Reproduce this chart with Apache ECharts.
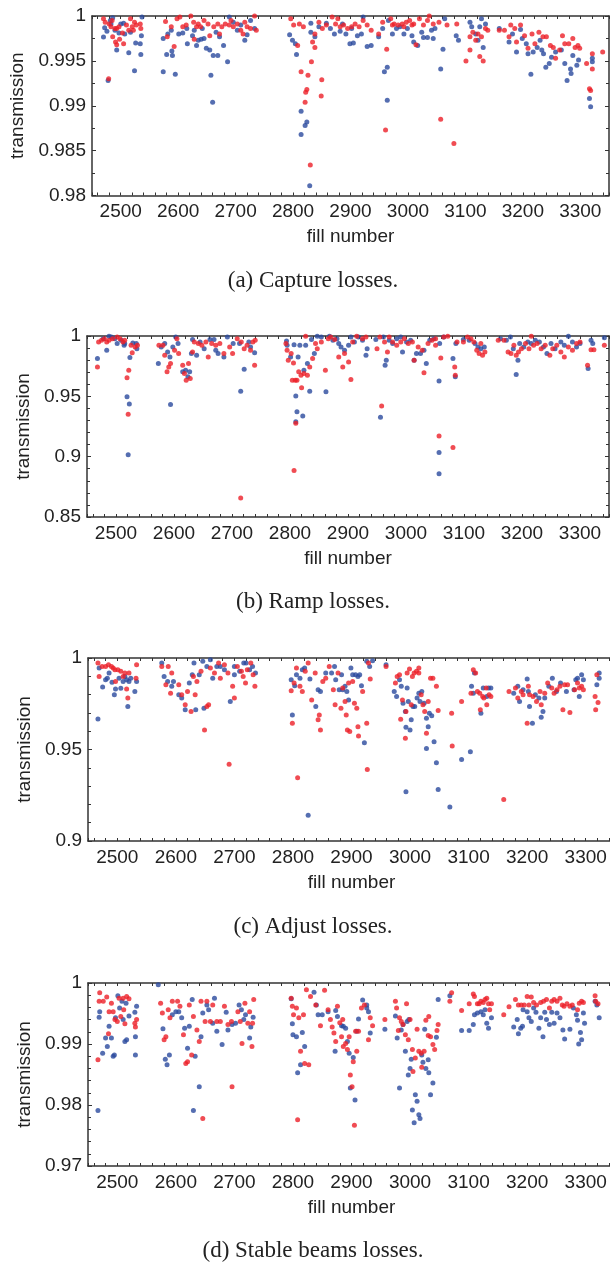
<!DOCTYPE html>
<html>
<head>
<meta charset="utf-8">
<script src="https://cdn.jsdelivr.net/npm/echarts@6/dist/echarts.min.js"></script>
<style>
html,body{margin:0;padding:0;background:#fff;overflow:hidden;}
#chart{width:610px;height:1264px;}
</style>
</head>
<body>
<div id="chart"></div>
<script>
// ---------- data ----------
const captions = ["(a) Capture losses.", "(b) Ramp losses.", "(c) Adjust losses.", "(d) Stable beams losses."];
const xName = "fill number";
const yName = "transmission";
const xRange = [2450, 3350];
const yRanges = [[0.98, 1], [0.85, 1], [0.9, 1], [0.97, 1]];
const yIntervals = [0.005, 0.05, 0.05, 0.01];
const yMinorSplits = [2, 5, 5, 5];

const captureBlue = [
[2470,0.99766],[2472,0.9987],[2486,0.9998],[2482,0.9995],[2490,0.9984],[2493,0.9962],[2497,0.9981],[2507,0.9980],[2514,0.9959],[2526,0.9970],[2534,0.9969],[2535,0.9957],[2524,0.9939],[2478,0.9928],[2536,0.9978],[2537,0.9999],[2483,0.9991],[2500,0.9991],[2517,0.9982],[2476,0.9983],[2505,0.9992],
[2574,0.9938],[2580,0.9957],[2589,0.9961],[2590,0.9956],[2595,0.9935],[2574,0.9975],[2582,0.9980],[2588,0.9984],[2601,0.9980],[2608,0.9981],[2616,0.9969],[2625,0.9978],[2632,0.9967],[2635,0.9973],[2640,0.9974],[2645,0.9975],[2649,0.9964],[2655,0.9962],[2661,0.9956],[2669,0.9956],[2657,0.9934],[2660,0.9904],[2686,0.9949],[2679,0.9967],[2672,0.9977],[2689,0.9999],[2696,0.9993],[2703,0.9984],[2716,0.9973],[2720,0.9979],[2726,0.9995],[2733,0.9986],[2615,0.9986],[2628,0.9984],[2642,0.9986],[2666,0.9982],[2709,0.9990],
[2794,0.9979],[2799,0.9973],[2804,0.9969],[2806,0.9957],[2814,0.9894],[2814,0.9868],[2821,0.9878],[2824,0.9882],[2829,0.9811],[2831,0.9982],[2831,0.9992],[2838,0.9977],[2845,0.9988],[2858,0.9992],[2872,0.9980],[2882,0.9983],[2892,0.9980],[2899,0.9969],[2905,0.9970],[2912,0.9978],[2922,0.9999],[2929,0.9966],[2936,0.9967],[2886,0.9991],[2902,0.9986],[2865,0.9986],[2919,0.9980],
[2949,0.9977],[2956,0.9986],[2959,0.9938],[2964,0.9943],[2964,0.9906],[2973,0.9980],[2980,0.9986],[2986,0.9988],[2993,0.9980],[2999,0.9986],[3007,0.9978],[3010,0.9971],[3017,0.9967],[3024,0.9982],[3027,0.9976],[3034,0.9976],[3041,0.9984],[3044,0.9975],[3047,0.9986],[3057,0.9941],[3061,0.9963],[3064,0.9997],[2966,0.9995],
[3084,0.9978],[3088,0.9973],[3108,0.9993],[3111,0.9988],[3118,0.9980],[3125,0.9988],[3128,0.9997],[3131,0.9965],[3135,0.9991],[3122,0.9973],
[3159,0.9986],[3176,0.9971],[3182,0.9980],[3189,0.9960],[3196,0.9985],[3199,0.9975],[3206,0.9969],[3209,0.9958],[3214,0.9935],[3218,0.9960],[3225,0.9965],[3230,0.9973],[3236,0.9958],[3240,0.9943],[3246,0.9947],[3250,0.9954],[3257,0.9960],[3267,0.9962],[3273,0.9947],[3277,0.9928],[3283,0.9941],[3284,0.9936],[3287,0.9956],[3294,0.9945],[3297,0.9951],[3316,0.9908],[3318,0.9899],[3321,0.9949],[3321,0.9953],[3233,0.9962]
];
const captureRed = [
[2470,0.9997],[2473,0.9993],[2479,0.9930],[2483,0.9988],[2486,0.9977],[2491,0.9971],[2493,0.9968],[2498,0.9974],[2503,0.9981],[2505,0.9969],[2510,0.9990],[2514,0.9984],[2517,0.9997],[2522,0.9984],[2524,0.9993],[2527,0.9990],[2534,0.9991],[2535,0.9986],[2490,0.9986],[2497,0.9988],[2480,0.9991],[2485,0.9995],[2493,0.9986],[2520,0.9988],
[2578,0.9994],[2581,0.9977],[2588,0.9988],[2593,0.9966],[2598,0.9997],[2603,0.9999],[2608,0.9988],[2614,0.9990],[2622,1.0],[2627,0.9993],[2632,0.9988],[2635,0.9991],[2639,0.9988],[2645,0.9995],[2652,0.9991],[2655,0.9978],[2662,0.9988],[2669,0.9991],[2676,0.9988],[2682,0.9991],[2689,0.9990],[2696,0.9988],[2703,0.9991],[2709,0.9984],[2713,0.9980],[2720,0.9988],[2726,0.9986],[2733,1.0],[2736,0.9984],[2628,0.9974],[2672,0.9980],[2692,0.9995],[2716,0.9993],
[2796,0.9997],[2801,0.9990],[2808,0.9967],[2811,0.9991],[2814,0.9938],[2818,0.9988],[2821,0.9904],[2822,0.9915],[2824,0.9918],[2826,0.9934],[2830,0.9834],[2832,0.9949],[2834,0.9971],[2838,0.9965],[2850,0.9929],[2849,0.9911],[2845,0.9993],[2851,0.9986],[2858,0.9990],[2868,0.9999],[2874,0.9991],[2882,0.9988],[2888,0.9990],[2895,0.9986],[2902,0.9988],[2908,0.9991],[2915,0.9988],[2922,0.9995],[2929,0.9990],[2936,0.9984],[2878,0.9997],[2838,0.9980],
[2949,0.9980],[2956,0.9993],[2961,0.9873],[2963,0.9963],[2970,0.9997],[2976,0.9991],[2983,0.9990],[2990,0.9991],[2997,0.9993],[3003,0.9995],[3010,0.9991],[3014,0.9968],[3020,0.9997],[3027,0.9990],[3034,0.9995],[3037,1.0],[3044,0.9991],[3054,0.9993],[3057,0.9885],[3068,0.9990],[3080,0.9858],[3085,0.9991],[2993,0.9988],[3007,0.9990],[2973,0.9990],
[3101,0.9950],[3108,0.9962],[3108,0.9977],[3113,0.9982],[3118,0.9973],[3122,0.9980],[3125,0.9955],[3128,0.9977],[3131,0.9950],[3135,0.9986],[3139,0.9984],
[3159,0.9984],[3168,0.9984],[3176,0.9977],[3179,0.9990],[3186,0.9986],[3189,0.9971],[3196,0.9990],[3203,0.9978],[3209,0.9964],[3216,0.9980],[3221,0.9969],[3228,0.9982],[3235,0.9977],[3241,0.9977],[3248,0.9967],[3253,0.9965],[3257,0.9953],[3264,0.9962],[3269,0.9978],[3273,0.9969],[3280,0.9969],[3287,0.9975],[3291,0.9965],[3296,0.9967],[3311,0.9947],[3316,0.9919],[3318,0.9917],[3321,0.9958],[3321,0.9941],[3339,0.9960],[3299,0.9964]
];
const rampBlue = [
[2468,0.9813],[2484,0.9882],[2478,0.9978],[2488,0.9997],[2498,0.9978],[2502,0.9937],[2509,0.9964],[2515,0.9937],[2519,0.9496],[2523,0.9436],[2521,0.9015],[2524,0.9821],[2529,0.9942],[2535,0.9937],[2536,0.9895],[2492,0.9992],[2514,0.9923],
[2573,0.9772],[2578,0.9909],[2584,0.9937],[2589,0.9868],[2593,0.9827],[2594,0.9433],[2598,0.9909],[2603,0.9992],[2607,0.9937],[2615,0.9703],[2620,0.9717],[2624,0.9662],[2627,0.9703],[2630,0.9854],[2632,0.9970],[2639,0.9840],[2645,0.9950],[2652,0.9895],[2662,0.9970],[2669,0.9970],[2672,0.9882],[2676,0.9854],[2686,0.9827],[2692,0.9992],[2702,0.9937],[2713,0.9937],[2715,0.9543],[2721,0.9725],[2729,0.9950],[2739,0.9862],[2732,0.9909],
[2794,0.9959],[2795,0.9923],[2801,0.9827],[2807,0.9928],[2810,0.9502],[2812,0.9373],[2810,0.9290],[2814,0.9827],[2817,0.9923],[2822,0.9337],[2824,0.9717],[2827,0.9923],[2830,0.9772],[2834,0.9543],[2837,0.9970],[2842,0.9854],[2847,0.9997],[2854,0.9992],[2862,0.9538],[2868,0.9997],[2874,0.9964],[2881,0.9978],[2888,0.9909],[2894,0.9882],[2901,0.9923],[2905,0.9992],[2911,0.9950],[2918,0.9992],[2925,0.9964],[2931,0.9840],[2933,0.9895],[2884,0.9937],
[2948,0.9970],[2956,0.9326],[2961,0.9992],[2964,0.9758],[2966,0.9799],[2971,0.9964],[2977,0.9937],[2984,0.9978],[2991,0.9992],[2994,0.9868],[3001,0.9950],[3008,0.9964],[3014,0.9799],[3018,0.9854],[3025,0.9854],[3031,0.9882],[3035,0.9772],[3041,0.9964],[3048,0.9978],[3057,0.9628],[3057,0.9034],[3057,0.8858],[3058,0.9937],[3081,0.9813],[3085,0.9662],[3086,0.9937],[3065,0.9992],
[3099,0.9970],[3109,0.9964],[3119,0.9937],[3124,0.9909],[3129,0.9895],[3135,0.9909],
[3163,0.9978],[3173,0.9964],[3180,0.9992],[3185,0.9895],[3190,0.9681],[3193,0.9799],[3196,0.9937],[3203,0.9909],[3210,0.9950],[3216,0.9937],[3223,0.9964],[3230,0.9950],[3237,0.9909],[3243,0.9854],[3250,0.9937],[3257,0.9895],[3267,0.9950],[3273,0.9923],[3280,0.9997],[3287,0.9950],[3294,0.9909],[3300,0.9937],[3314,0.9730],[3319,0.9964],[3322,0.9937],[3342,0.9986]
];
const rampRed = [
[2468,0.9744],[2470,0.9950],[2475,0.9964],[2480,0.9978],[2488,0.9964],[2494,0.9978],[2502,0.9992],[2507,0.9978],[2512,0.9950],[2515,0.9964],[2519,0.9653],[2522,0.9717],[2521,0.9351],[2528,0.9862],[2533,0.9909],[2537,0.9923],[2526,0.9923],[2484,0.9950],
[2574,0.9923],[2581,0.9923],[2584,0.9840],[2588,0.9703],[2591,0.9744],[2594,0.9772],[2601,0.9882],[2605,0.9978],[2608,0.9854],[2615,0.9758],[2618,0.9689],[2621,0.9634],[2625,0.9772],[2628,0.9648],[2632,0.9868],[2635,0.9950],[2642,0.9937],[2648,0.9923],[2655,0.9950],[2659,0.9827],[2665,0.9937],[2672,0.9923],[2679,0.9937],[2686,0.9854],[2696,0.9909],[2701,0.9854],[2709,0.9978],[2716,0.9950],[2715,0.8657],[2721,0.9895],[2726,0.9923],[2732,0.9882],[2739,0.9758],[2736,0.9950],[2740,0.9964],
[2793,0.9937],[2795,0.9882],[2797,0.9799],[2802,0.9854],[2804,0.9634],[2806,0.9777],[2807,0.8885],[2809,0.9634],[2810,0.9276],[2812,0.9634],[2815,0.9703],[2819,0.9675],[2820,0.9571],[2824,0.9689],[2827,0.9997],[2830,0.9675],[2834,0.9744],[2839,0.9813],[2844,0.9937],[2847,0.9895],[2854,0.9950],[2861,0.9717],[2866,0.9978],[2870,0.9992],[2877,0.9970],[2884,0.9827],[2891,0.9744],[2894,0.9854],[2901,0.9785],[2905,0.9639],[2908,0.9950],[2915,0.9997],[2925,0.9978],[2931,0.9992],
[2950,0.9895],[2955,0.9992],[2958,0.9419],[2963,0.9950],[2968,0.9868],[2971,0.9992],[2977,0.9950],[2984,0.9923],[2991,0.9950],[2997,0.9978],[3004,0.9937],[3011,0.9950],[3014,0.9799],[3021,0.9909],[3028,0.9882],[3031,0.9695],[3038,0.9937],[3045,0.9964],[3051,0.9978],[3057,0.9172],[3060,0.9818],[3065,0.9992],[3072,0.9997],[3081,0.9075],[3084,0.9744],[3085,0.9675],[3088,0.9950],[3051,0.9923],
[3099,0.9950],[3106,0.9992],[3112,0.9978],[3117,0.9950],[3122,0.9882],[3126,0.9854],[3129,0.9937],[3132,0.9840],[3136,0.9868],
[3159,0.9964],[3169,0.9964],[3176,0.9868],[3181,0.9854],[3186,0.9923],[3190,0.9840],[3194,0.9868],[3199,0.9895],[3206,0.9937],[3212,0.9895],[3216,0.9997],[3220,0.9923],[3226,0.9937],[3233,0.9895],[3240,0.9923],[3248,0.9840],[3253,0.9895],[3260,0.9923],[3267,0.9868],[3273,0.9827],[3280,0.9909],[3287,0.9882],[3294,0.9937],[3300,0.9950],[3313,0.9758],[3319,0.9887],[3324,0.9887],[3342,0.9923]
];
const adjustBlue = [
[2467,0.9667],[2469,0.9945],[2475,0.9841],[2480,0.9881],[2486,0.9918],[2491,0.9867],[2495,0.9799],[2497,0.9830],[2503,0.9890],[2506,0.9835],[2510,0.9872],[2513,0.9899],[2516,0.9881],[2518,0.9735],[2520,0.9872],[2523,0.9890],[2530,0.9817],[2533,0.9872],[2483,0.9890],
[2576,0.9973],[2580,0.9899],[2586,0.9872],[2593,0.9845],[2596,0.9872],[2605,0.9799],[2610,0.9781],[2616,0.9717],[2623,0.9863],[2628,0.9909],[2631,0.9973],[2634,0.9717],[2640,0.9909],[2646,0.9982],[2648,0.9726],[2653,0.9954],[2659,0.9991],[2663,0.9890],[2670,0.9954],[2676,0.9954],[2683,0.9936],[2693,0.9762],[2700,0.9954],[2700,0.9909],[2709,0.9927],[2716,0.9973],[2720,0.9973],[2726,0.9936],[2731,0.9954],[2736,0.9918],
[2797,0.9881],[2799,0.9689],[2803,0.9848],[2806,0.9909],[2812,0.9890],[2816,0.9936],[2820,0.9945],[2826,0.9141],[2829,0.9885],[2839,0.9735],[2843,0.9826],[2847,0.9817],[2856,0.9918],[2866,0.9918],[2871,0.9954],[2873,0.9881],[2879,0.9826],[2883,0.9909],[2885,0.9826],[2889,0.9845],[2892,0.9817],[2895,0.9771],[2899,0.9945],[2902,0.9909],[2907,0.9909],[2911,0.9899],[2914,0.9909],[2917,0.9848],[2922,0.9537],[2926,0.9982],[2931,0.9954],[2936,0.9985],[2959,0.9963],
[2973,0.9817],[2977,0.9790],[2982,0.9881],[2985,0.9845],[2988,0.9753],[2992,0.9708],[2993,0.9622],[2993,0.9269],[2997,0.9762],[3000,0.9607],[3002,0.9662],[3005,0.9735],[3008,0.9735],[3012,0.9781],[3015,0.9808],[3017,0.9762],[3020,0.9817],[3024,0.9753],[3028,0.9506],[3028,0.9671],[3031,0.9625],[3033,0.9698],[3037,0.9684],[3041,0.9543],[3045,0.9428],[3048,0.9282],[3068,0.9186],[3088,0.9446],[3103,0.9488],[2995,0.9836],
[3105,0.9845],[3108,0.9808],[3110,0.9918],[3121,0.9698],[3125,0.9836],[3131,0.9790],[3134,0.9836],[3138,0.9836],
[3177,0.9808],[3184,0.9845],[3187,0.9762],[3193,0.9826],[3200,0.9885],[3202,0.9817],[3204,0.9735],[3209,0.9644],[3214,0.9799],[3220,0.9781],[3224,0.9676],[3227,0.9708],[3230,0.9781],[3237,0.9845],[3243,0.9890],[3250,0.9817],[3257,0.9863],[3267,0.9817],[3280,0.9826],[3283,0.9881],[3286,0.9890],[3289,0.9790],[3293,0.9909],[3296,0.9881],[3319,0.9854],[3323,0.9890],[3323,0.9918]
];
const adjustRed = [
[2467,0.9973],[2469,0.9899],[2474,0.9954],[2480,0.9954],[2485,0.9963],[2490,0.9954],[2493,0.9945],[2497,0.9872],[2501,0.9936],[2506,0.9927],[2510,0.9899],[2513,0.9918],[2516,0.9830],[2518,0.9781],[2520,0.9918],[2533,0.9963],[2532,0.9890],[2496,0.9936],
[2576,0.9954],[2583,0.9854],[2587,0.9954],[2591,0.9808],[2593,0.9918],[2605,0.9854],[2610,0.9799],[2616,0.9744],[2620,0.9817],[2626,0.9708],[2630,0.9899],[2633,0.9799],[2636,0.9872],[2643,0.9927],[2649,0.9607],[2653,0.9735],[2656,0.9744],[2659,0.9945],[2666,0.9918],[2673,0.9973],[2676,0.9890],[2683,0.9963],[2689,0.9918],[2691,0.9420],[2697,0.9845],[2700,0.9781],[2705,0.9954],[2712,0.9927],[2715,0.9899],[2722,0.9936],[2728,0.9973],[2732,0.9909],[2735,0.9845],[2719,0.9863],
[2797,0.9821],[2799,0.9644],[2802,0.9863],[2806,0.9945],[2808,0.9345],[2812,0.9845],[2816,0.9817],[2821,0.9927],[2826,0.9973],[2832,0.9771],[2838,0.9918],[2843,0.9662],[2845,0.9689],[2847,0.9607],[2851,0.9872],[2856,0.9890],[2862,0.9954],[2869,0.9826],[2872,0.9744],[2877,0.9918],[2882,0.9726],[2885,0.9836],[2889,0.9762],[2891,0.9689],[2893,0.9607],[2895,0.9863],[2897,0.9598],[2902,0.9872],[2905,0.9753],[2909,0.9726],[2911,0.9625],[2912,0.9574],[2919,0.9817],[2926,0.9644],[2927,0.9391],[2929,0.9973],[2932,0.9885],[2959,0.9954],
[2975,0.9863],[2978,0.9899],[2982,0.9909],[2984,0.9665],[2987,0.9771],[2992,0.9561],[2993,0.9708],[2995,0.9918],[2999,0.9940],[3002,0.9744],[3004,0.9899],[3007,0.9918],[3011,0.9927],[3015,0.9918],[3019,0.9799],[3022,0.9744],[3025,0.9708],[3028,0.9589],[3031,0.9762],[3035,0.9890],[3039,0.9890],[3045,0.9845],[3048,0.9713],[3071,0.9698],[3072,0.9519],[3088,0.9762],[3015,0.9945],
[3104,0.9808],[3108,0.9936],[3112,0.9918],[3115,0.9817],[3120,0.9717],[3124,0.9790],[3126,0.9781],[3130,0.9836],[3131,0.9744],[3135,0.9799],[3138,0.9790],[3119,0.9808],
[3160,0.9227],[3169,0.9817],[3180,0.9836],[3184,0.9781],[3190,0.9817],[3193,0.9799],[3200,0.9644],[3202,0.9845],[3204,0.9799],[3210,0.9790],[3216,0.9762],[3222,0.9817],[3224,0.9744],[3230,0.9808],[3235,0.9863],[3242,0.9836],[3246,0.9808],[3251,0.9826],[3256,0.9845],[3261,0.9717],[3264,0.9854],[3269,0.9854],[3273,0.9702],[3281,0.9826],[3286,0.9863],[3289,0.9836],[3293,0.9845],[3296,0.9826],[3316,0.9790],[3317,0.9717],[3321,0.9757],[3319,0.9909]
];
const stableBlue = [
[2467,0.9791],[2469,0.9944],[2470,0.9953],[2475,0.9885],[2480,0.9910],[2483,0.9896],[2486,0.9929],[2490,0.9910],[2493,0.9880],[2495,0.9882],[2497,0.9943],[2501,0.9979],[2504,0.9959],[2508,0.9970],[2510,0.9940],[2513,0.9904],[2515,0.9967],[2516,0.9907],[2520,0.9946],[2530,0.9952],[2531,0.9882],[2531,0.9912],[2533,0.9962],
[2570,0.9997],[2578,0.9925],[2582,0.9875],[2585,0.9866],[2589,0.9882],[2594,0.9948],[2600,0.9953],[2605,0.9953],[2610,0.9943],[2615,0.9926],[2620,0.9893],[2623,0.9929],[2628,0.9973],[2630,0.9791],[2633,0.9880],[2640,0.9830],[2643,0.9912],[2646,0.9951],[2653,0.9964],[2656,0.9956],[2663,0.9934],[2666,0.9975],[2670,0.9921],[2679,0.9899],[2686,0.9952],[2689,0.9923],[2696,0.9932],[2702,0.9934],[2708,0.9964],[2712,0.9956],[2716,0.9940],[2719,0.9948],[2726,0.9910],[2728,0.9928],[2732,0.9944],
[2797,0.9974],[2799,0.9933],[2800,0.9915],[2806,0.9912],[2808,0.9853],[2813,0.9866],[2816,0.9919],[2820,0.9896],[2836,0.9985],[2840,0.9964],[2843,0.9948],[2850,0.9948],[2860,0.9953],[2872,0.9888],[2873,0.9955],[2876,0.9945],[2883,0.9930],[2886,0.9929],[2890,0.9926],[2893,0.9904],[2896,0.9885],[2898,0.9828],[2903,0.9878],[2906,0.9808],[2909,0.9921],[2912,0.9941],[2919,0.9972],[2926,0.9964],[2929,0.9953],[2932,0.9918],[2926,0.9959],
[2957,0.9924],[2975,0.9946],[2978,0.9910],[2982,0.9828],[2985,0.9923],[2988,0.9932],[2992,0.9888],[2995,0.9937],[2997,0.9849],[3000,0.9860],[3002,0.9875],[3004,0.9792],[3007,0.9771],[3009,0.9817],[3012,0.9806],[3015,0.9784],[3017,0.9778],[3020,0.9882],[3022,0.9870],[3025,0.9924],[3027,0.9860],[3031,0.9874],[3032,0.9853],[3035,0.9817],[3039,0.9836],[3045,0.9911],[3048,0.9973],[2998,0.9940],
[3068,0.9979],[3088,0.9922],[3101,0.9922],[3108,0.9932],[3110,0.9948],[3115,0.9951],[3121,0.9953],[3125,0.9948],[3128,0.9956],[3131,0.9934],[3134,0.9926],[3139,0.9943],
[3177,0.9928],[3183,0.9940],[3185,0.9917],[3189,0.9926],[3192,0.9929],[3193,0.9956],[3200,0.9953],[3203,0.9943],[3207,0.9937],[3211,0.9959],[3215,0.9952],[3220,0.9926],[3223,0.9943],[3227,0.9912],[3230,0.9952],[3233,0.9940],[3238,0.9932],[3242,0.9952],[3246,0.9934],[3251,0.9951],[3256,0.9943],[3261,0.9923],[3264,0.9908],[3273,0.9924],[3279,0.9959],[3284,0.9948],[3286,0.9939],[3288,0.9900],[3291,0.9919],[3293,0.9907],[3296,0.9951],[3298,0.9934],[3316,0.9970],[3319,0.9964],[3323,0.9943]
];
const stableRed = [
[2467,0.9874],[2469,0.9970],[2470,0.9984],[2476,0.9970],[2482,0.9977],[2485,0.9917],[2486,0.9953],[2490,0.9967],[2493,0.9953],[2496,0.9940],[2500,0.9937],[2503,0.9975],[2506,0.9945],[2510,0.9975],[2511,0.9956],[2513,0.9933],[2516,0.9978],[2520,0.9974],[2530,0.9934],[2531,0.9928],[2533,0.9940],
[2574,0.9967],[2577,0.9951],[2580,0.9907],[2583,0.9912],[2587,0.9956],[2590,0.9943],[2594,0.9970],[2603,0.9970],[2607,0.9962],[2613,0.9915],[2617,0.9868],[2620,0.9871],[2623,0.9964],[2627,0.9882],[2630,0.9945],[2636,0.9923],[2640,0.9904],[2643,0.9970],[2646,0.9778],[2650,0.9937],[2653,0.9970],[2659,0.9937],[2663,0.9964],[2670,0.9937],[2676,0.9937],[2683,0.9962],[2689,0.9932],[2695,0.9937],[2696,0.9830],[2706,0.9953],[2710,0.9937],[2713,0.9901],[2718,0.9967],[2723,0.9934],[2726,0.9953],[2730,0.9896],[2733,0.9973],[2731,0.9934],
[2797,0.9975],[2799,0.9962],[2801,0.9948],[2806,0.9959],[2808,0.9776],[2810,0.9943],[2813,0.9888],[2818,0.9948],[2820,0.9868],[2823,0.9989],[2827,0.9866],[2830,0.9978],[2839,0.9964],[2847,0.9930],[2854,0.9988],[2860,0.9956],[2864,0.9940],[2867,0.9928],[2870,0.9918],[2873,0.9904],[2876,0.9962],[2880,0.9935],[2883,0.9912],[2885,0.9940],[2886,0.9896],[2890,0.9901],[2893,0.9891],[2896,0.9912],[2898,0.9849],[2901,0.9830],[2903,0.9871],[2905,0.9767],[2907,0.9921],[2909,0.9888],[2912,0.9921],[2917,0.9959],[2922,0.9964],[2929,0.9907],[2932,0.9943],[2936,0.9930],
[2957,0.9940],[2975,0.9970],[2977,0.9959],[2980,0.9922],[2982,0.9943],[2985,0.9937],[2988,0.9932],[2992,0.9915],[2994,0.9966],[2997,0.9907],[3000,0.9940],[3004,0.9891],[3005,0.9855],[3009,0.9877],[3012,0.9924],[3015,0.9888],[3019,0.9885],[3020,0.9862],[3024,0.9888],[3027,0.9939],[3031,0.9914],[3032,0.9945],[3035,0.9912],[3039,0.9899],[3042,0.9891],[3046,0.9922],[3048,0.9932],
[3068,0.9970],[3071,0.9984],[3088,0.9955],[3101,0.9966],[3108,0.9982],[3110,0.9978],[3115,0.9966],[3118,0.9966],[3121,0.9970],[3125,0.9968],[3128,0.9973],[3131,0.9975],[3134,0.9966],[3136,0.9956],[3139,0.9966],
[3160,0.9948],[3169,0.9961],[3180,0.9973],[3185,0.9964],[3190,0.9964],[3195,0.9964],[3200,0.9978],[3203,0.9964],[3207,0.9977],[3211,0.9968],[3216,0.9964],[3223,0.9968],[3228,0.9970],[3233,0.9973],[3238,0.9959],[3242,0.9970],[3246,0.9973],[3251,0.9970],[3256,0.9975],[3260,0.9964],[3263,0.9962],[3268,0.9966],[3273,0.9962],[3277,0.9964],[3286,0.9956],[3289,0.9967],[3293,0.9970],[3296,0.9968],[3316,0.9979],[3317,0.9970],[3321,0.9966]
];
const blueSets = [captureBlue, rampBlue, adjustBlue, stableBlue];
const redSets = [captureRed, rampRed, adjustRed, stableRed];

// ---------- layout & style ----------
const BLUE = '#2b4a9e';
const RED = '#ec1f28';
const AXIS = '#333333';
const TXT = '#222222';
const SANS = "'Liberation Sans', Arial, Helvetica, sans-serif";
const SERIF = "'Liberation Serif', 'Times New Roman', serif";
const gridBoxes = [
  {left: 92, top: 16, width: 517, height: 179.5},
  {left: 87, top: 336, width: 522, height: 181},
  {left: 88, top: 658, width: 527, height: 183},
  {left: 88, top: 983, width: 527, height: 183}
];
const yNameGaps = [61, 53, 54, 54];
const captionY = [281, 602, 927, 1251];

const chart = echarts.init(document.getElementById('chart'), null, {renderer: 'canvas'});

const grids = [], xAxes = [], yAxes = [], series = [], graphics = [];
const fmtY = v => String(parseFloat((+v).toFixed(4)));
const fmtX = v => { const r = Math.round(v); return (r % 100 === 0) ? String(r) : ''; };

gridBoxes.forEach((g, i) => {
  grids.push(Object.assign({containLabel: false, outerBoundsMode: 'none'}, g));
  const xCommon = {
    type: 'value', gridIndex: i, min: xRange[0], max: xRange[1],
    splitNumber: 45, minInterval: 20, maxInterval: 20,
    axisLine: {show: true, onZero: false, lineStyle: {color: AXIS, width: 1.5}},
    axisTick: {show: true, inside: true, length: 3, lineStyle: {color: AXIS, width: 1}},
    splitLine: {show: false}
  };
  xAxes.push(Object.assign({}, xCommon, {
    position: 'bottom',
    name: xName, nameLocation: 'middle', nameGap: 32,
    nameTextStyle: {fontFamily: SANS, fontSize: 19, color: TXT},
    axisLabel: {show: true, interval: 0, formatter: fmtX, margin: 7,
      fontFamily: SANS, fontSize: 19, color: TXT, hideOverlap: false,
      showMinLabel: true, showMaxLabel: true}
  }));
  xAxes.push(Object.assign({}, xCommon, {position: 'top', axisLabel: {show: false}}));
  const yCommon = {
    type: 'value', gridIndex: i, min: yRanges[i][0], max: yRanges[i][1],
    interval: yIntervals[i],
    axisLine: {show: true, onZero: false, lineStyle: {color: AXIS, width: 1.5}},
    axisTick: {show: true, inside: true, length: 4, lineStyle: {color: AXIS, width: 1}},
    minorTick: {show: true, splitNumber: yMinorSplits[i], length: 3, lineStyle: {color: AXIS, width: 1}},
    splitLine: {show: false}, minorSplitLine: {show: false}
  };
  yAxes.push(Object.assign({}, yCommon, {
    position: 'left',
    name: yName, nameLocation: 'middle', nameGap: yNameGaps[i],
    nameTextStyle: {fontFamily: SANS, fontSize: 19, color: TXT},
    axisLabel: {show: true, formatter: fmtY, margin: 6, fontFamily: SANS, fontSize: 19, color: TXT}
  }));
  yAxes.push(Object.assign({}, yCommon, {position: 'right', axisLabel: {show: false}}));

  series.push({
    type: 'scatter', xAxisIndex: 2 * i, yAxisIndex: 2 * i,
    data: blueSets[i], symbol: 'circle', symbolSize: 5,
    itemStyle: {color: BLUE}, silent: true, clip: true
  });
  series.push({
    type: 'scatter', xAxisIndex: 2 * i, yAxisIndex: 2 * i,
    data: redSets[i], symbol: 'circle', symbolSize: 5,
    itemStyle: {color: RED}, silent: true, clip: true
  });
  graphics.push({
    type: 'text', x: 313, y: captionY[i],
    style: {text: captions[i], fontFamily: SERIF, fontSize: 23, fill: TXT,
      align: 'center', verticalAlign: 'middle'}
  });
});

chart.setOption({
  animation: false,
  backgroundColor: '#ffffff',
  grid: grids,
  xAxis: xAxes,
  yAxis: yAxes,
  series: series,
  graphic: graphics
});
</script>
</body>
</html>
